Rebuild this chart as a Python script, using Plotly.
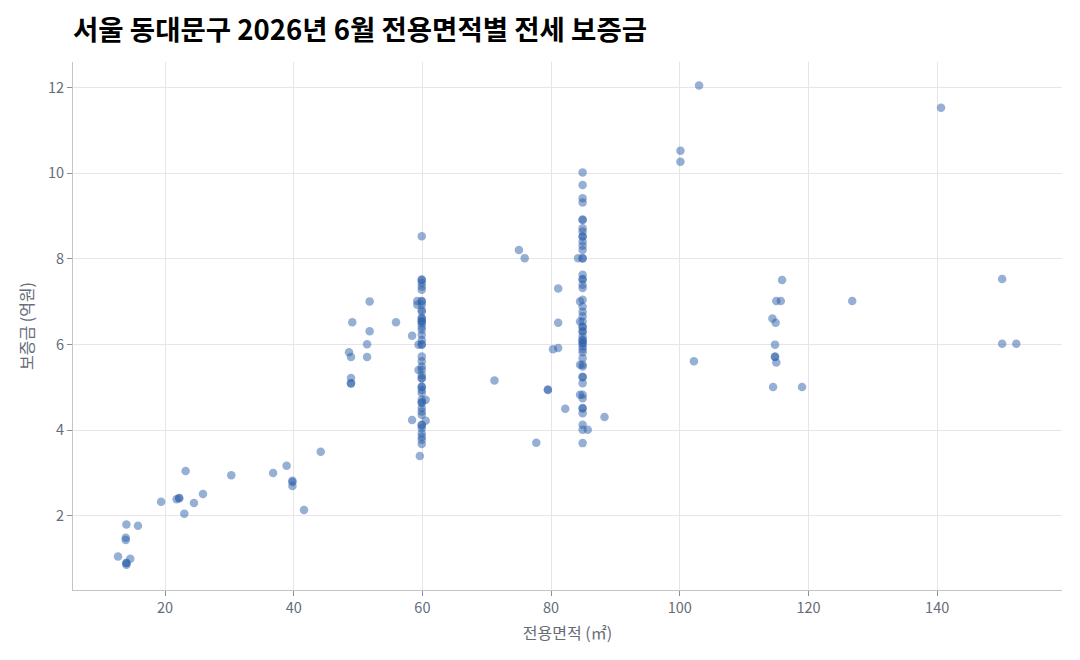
import plotly.graph_objects as go

# 전용면적(㎡) 과 보증금(억원) - 그림에서 읽은 값
area_small = [12.7, 14.6, 14.0, 14.0, 14.0, 13.9, 13.9, 14.0, 15.8, 19.4, 21.8, 22.2, 22.2,
              23.2, 23.0, 24.5, 25.9, 30.3, 36.8, 38.9, 39.8, 39.8, 39.8, 41.6, 44.2]
deposit_small = [1.05, 1.00, 0.90, 0.90, 0.86, 1.49, 1.44, 1.80, 1.77, 2.33, 2.39, 2.41, 2.42,
                 3.05, 2.05, 2.30, 2.51, 2.95, 3.00, 3.17, 2.82, 2.79, 2.70, 2.14, 3.50]

area_mid = [51.8, 49.1, 55.9, 51.8, 51.4, 48.6, 48.9, 51.4, 48.9, 48.9, 48.9,
            58.4, 58.4, 59.6, 59.2, 59.2, 59.4, 59.4, 60.5, 60.5]
deposit_mid = [7.01, 6.52, 6.52, 6.31, 6.01, 5.82, 5.71, 5.71, 5.22, 5.09, 5.10,
               6.21, 4.24, 3.40, 7.02, 6.93, 6.00, 5.41, 4.71, 4.22]

# 59.9㎡ 세로줄
deposit_60 = [8.53, 7.51, 7.52, 7.44, 7.36, 7.28, 7.02, 7.01, 6.93, 6.81, 6.77, 6.62, 6.61,
              6.54, 6.55, 6.50, 6.42, 6.35, 6.23, 6.11, 6.00, 6.01, 5.72, 5.61, 5.49, 5.41,
              5.29, 5.22, 5.21, 5.02, 5.01, 4.94, 4.87, 4.71, 4.65, 4.64, 4.52, 4.44, 4.36,
              4.13, 4.12, 4.05, 3.93, 3.85, 3.78, 3.68]

# 84.9㎡ 세로줄
deposit_85 = [10.02, 9.73, 9.42, 9.32, 8.92, 8.91, 8.72, 8.64, 8.53, 8.52, 8.41, 8.31, 8.21,
              8.02, 8.01, 7.63, 7.53, 7.52, 7.40, 7.32, 7.05, 6.89, 6.77, 6.66, 6.54, 6.42,
              6.41, 6.31, 6.30, 6.19, 6.11, 6.10, 6.04, 6.03, 5.96, 5.89, 5.82, 5.68, 5.53,
              5.49, 5.25, 5.24, 5.10, 4.83, 4.75, 4.52, 4.51, 4.40, 4.13, 4.01, 3.70]

area_other = [84.2, 84.5, 84.5, 84.5, 81.1, 81.1, 80.3, 81.1, 71.2, 79.5, 79.5, 82.2, 88.3,
              77.7, 85.7, 75.0, 75.9, 84.5]
deposit_other = [8.02, 7.01, 6.54, 5.53, 7.31, 6.51, 5.89, 5.92, 5.16, 4.94, 4.95, 4.50, 4.31,
                 3.71, 4.01, 8.21, 8.02, 4.83]

area_large = [100.1, 100.1, 103.0, 102.2, 115.9, 115.0, 115.7, 126.8, 114.4, 114.9, 114.8,
              114.8, 114.8, 115.0, 114.5, 119.0, 140.6, 150.1, 150.1, 152.3]
deposit_large = [10.27, 10.53, 12.05, 5.61, 7.51, 7.02, 7.02, 7.02, 6.61, 6.51, 6.00,
                 5.71, 5.72, 5.58, 5.01, 5.01, 11.53, 7.53, 6.02, 6.02]

x = area_small + area_mid + [59.9] * len(deposit_60) + [84.9] * len(deposit_85) + area_other + area_large
y = deposit_small + deposit_mid + deposit_60 + deposit_85 + deposit_other + deposit_large

fig = go.Figure(go.Scatter(
    x=x, y=y, mode="markers",
    marker=dict(size=8.5, color="rgb(45,95,170)", opacity=0.5, line=dict(width=0)),
    hovertemplate="%{x}㎡<br>%{y}억원<extra></extra>"
))

axis_style = dict(
    showgrid=True, gridcolor="#e6e6ea", gridwidth=1, zeroline=False,
    showline=True, linecolor="#c0c4cc", linewidth=1,
    ticks="outside", tickcolor="#8a8f99", ticklen=5,
    tickfont=dict(size=14.5, color="#666b78"),
    title_font=dict(size=16, color="#666b78"),
    automargin=False,
)

# 페이지 body 여백(8px)을 감안한 여백
fig.update_layout(
    width=1080, height=660,
    paper_bgcolor="white", plot_bgcolor="white",
    font=dict(family="Noto Sans CJK KR"),
    title=dict(text="<b>서울 동대문구 2026년 6월 전용면적별 전세 보증금</b>",
               x=0.0, xref="paper", xanchor="left",
               y=1 - 22 / 660, yref="container", yanchor="middle",
               font=dict(size=27.5, color="black")),
    margin=dict(l=65, r=26, t=54, b=78),
    showlegend=False,
)
fig.update_xaxes(axis_style, range=[5.7, 159.4], dtick=20, title_text="전용면적 (㎡)", title_standoff=11)
fig.update_yaxes(axis_style, range=[0.27, 12.6], dtick=2, title_text="보증금 (억원)", title_standoff=10)

fig.write_html("out.html")
